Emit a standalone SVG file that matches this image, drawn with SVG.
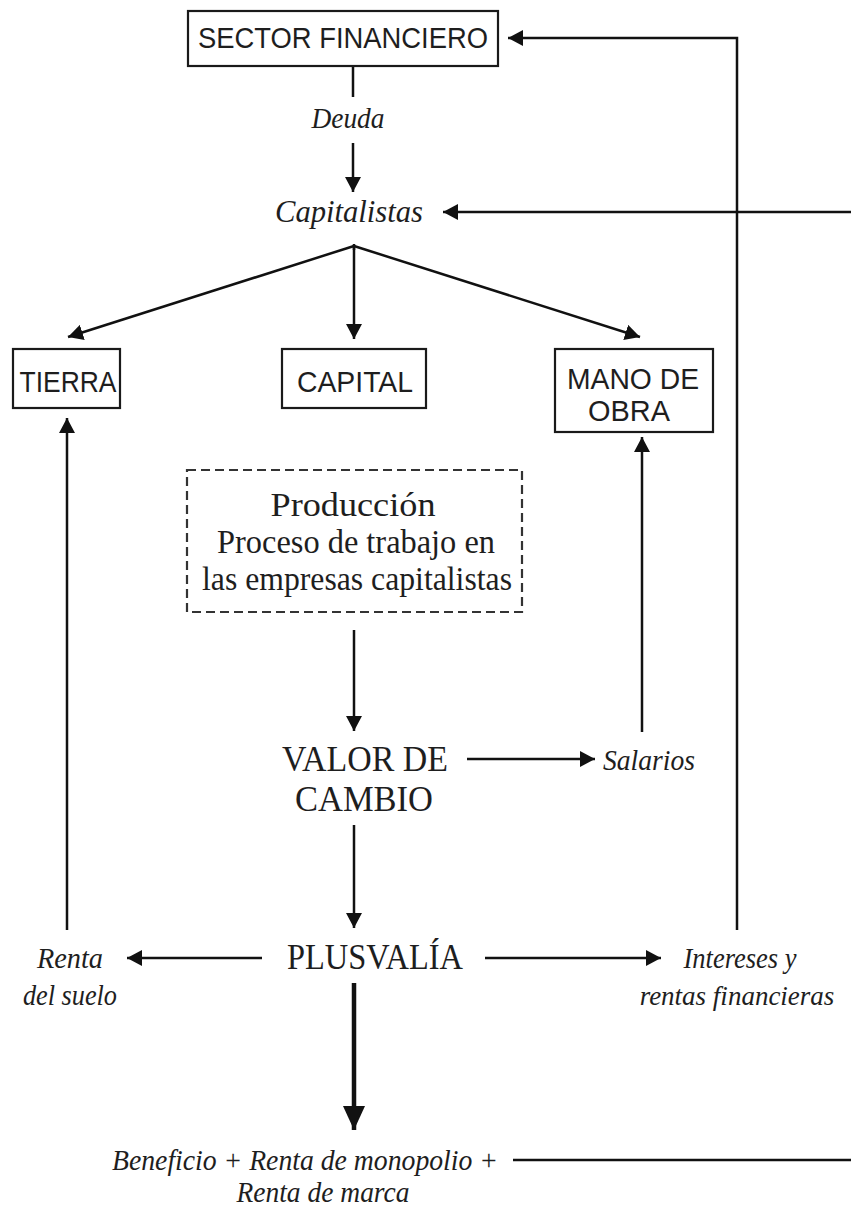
<svg xmlns="http://www.w3.org/2000/svg" width="851" height="1211" viewBox="0 0 851 1211">
<style>
.bg{fill:#ffffff}
.box{fill:none;stroke:#1a1a1a;stroke-width:2.2}
.dash{fill:none;stroke:#333;stroke-width:2.2;stroke-dasharray:9,5}
.sans{font-family:"Liberation Sans",Arial,sans-serif;font-size:29.5px;fill:#1e1e1e;text-anchor:middle}
.serif{font-family:"Liberation Serif","Times New Roman",serif;fill:#1e1e1e;text-anchor:middle}
.it{font-family:"Liberation Serif","Times New Roman",serif;font-style:italic;fill:#1e1e1e;text-anchor:middle;font-size:30px}
.ln{fill:none;stroke:#111;stroke-width:2.5}
.thick{fill:none;stroke:#111;stroke-width:4.5}
</style>
<defs>
<marker id="ah" viewBox="0 0 15 16" refX="15" refY="8" markerWidth="15" markerHeight="16" markerUnits="userSpaceOnUse" orient="auto">
<path d="M0,0 L15,8 L0,16 z" fill="#111"/>
</marker>
<marker id="ahb" viewBox="0 0 24 22" refX="24" refY="11" markerWidth="24" markerHeight="22" markerUnits="userSpaceOnUse" orient="auto">
<path d="M0,0 L24,11 L0,22 z" fill="#111"/>
</marker>
</defs>
<rect class="bg" x="0" y="0" width="851" height="1211"/>

<g id="connectors">
<line class="ln" x1="353" y1="66" x2="353" y2="97"/>
<line class="ln" x1="353" y1="143" x2="353" y2="192" marker-end="url(#ah)"/>
<line class="ln" x1="851" y1="212" x2="443" y2="212" marker-end="url(#ah)"/>
<path class="ln" d="M737,930 V38 H508" marker-end="url(#ah)"/>
<line class="ln" x1="354" y1="246" x2="68" y2="337" marker-end="url(#ah)"/>
<line class="ln" x1="354" y1="246" x2="354" y2="339" marker-end="url(#ah)"/>
<line class="ln" x1="354" y1="246" x2="640" y2="337" marker-end="url(#ah)"/>
<line class="ln" x1="354" y1="244" x2="354" y2="250"/>
<line class="ln" x1="67" y1="930" x2="67" y2="418" marker-end="url(#ah)"/>
<line class="ln" x1="642" y1="732" x2="642" y2="437" marker-end="url(#ah)"/>
<line class="ln" x1="354" y1="630" x2="354" y2="731" marker-end="url(#ah)"/>
<line class="ln" x1="467" y1="759" x2="595" y2="759" marker-end="url(#ah)"/>
<line class="ln" x1="354" y1="825" x2="354" y2="928" marker-end="url(#ah)"/>
<line class="ln" x1="262" y1="958" x2="127" y2="958" marker-end="url(#ah)"/>
<line class="ln" x1="485" y1="958" x2="661" y2="958" marker-end="url(#ah)"/>
<line class="thick" x1="354" y1="983" x2="354" y2="1130" marker-end="url(#ahb)"/>
<line class="ln" x1="513" y1="1160" x2="851" y2="1160"/>
</g>

<g id="sector-financiero">
<rect class="box" x="188" y="11" width="310" height="55"/>
<text class="sans" x="343" y="48" textLength="290" lengthAdjust="spacingAndGlyphs">SECTOR FINANCIERO</text>
</g>

<g id="deuda">
<text class="it" x="348" y="128" textLength="73" lengthAdjust="spacingAndGlyphs">Deuda</text>
</g>

<g id="capitalistas">
<text class="it" x="349" y="222" style="font-size:32px" textLength="148" lengthAdjust="spacingAndGlyphs">Capitalistas</text>
</g>

<g id="tierra">
<rect class="box" x="13" y="349" width="107" height="59"/>
<text class="sans" x="68" y="392" textLength="97" lengthAdjust="spacingAndGlyphs">TIERRA</text>
</g>

<g id="capital">
<rect class="box" x="282" y="349" width="144" height="59"/>
<text class="sans" x="355" y="392" textLength="116" lengthAdjust="spacingAndGlyphs">CAPITAL</text>
</g>

<g id="mano-de-obra">
<rect class="box" x="555" y="349" width="158" height="83"/>
<text class="sans" x="633" y="389" textLength="132" lengthAdjust="spacingAndGlyphs">MANO DE</text>
<text class="sans" x="629" y="421" textLength="82" lengthAdjust="spacingAndGlyphs">OBRA</text>
</g>

<g id="produccion">
<rect class="dash" x="187" y="470" width="335" height="142"/>
<text class="serif" x="353" y="516" style="font-size:33px" textLength="165" lengthAdjust="spacingAndGlyphs">Producción</text>
<text class="serif" x="356" y="553" style="font-size:34px" textLength="278" lengthAdjust="spacingAndGlyphs">Proceso de trabajo en</text>
<text class="serif" x="357" y="590" style="font-size:34px" textLength="310" lengthAdjust="spacingAndGlyphs">las empresas capitalistas</text>
</g>

<g id="valor-de-cambio">
<text class="serif" x="365" y="771" style="font-size:36px" textLength="166" lengthAdjust="spacingAndGlyphs">VALOR DE</text>
<text class="serif" x="364" y="811" style="font-size:36px" textLength="138" lengthAdjust="spacingAndGlyphs">CAMBIO</text>
</g>

<g id="salarios">
<text class="it" x="649" y="770" textLength="92" lengthAdjust="spacingAndGlyphs">Salarios</text>
</g>

<g id="plusvalia">
<text class="serif" x="375" y="969" style="font-size:35px" textLength="176" lengthAdjust="spacingAndGlyphs">PLUSVALÍA</text>
</g>

<g id="renta-del-suelo">
<text class="it" x="70" y="968" textLength="66" lengthAdjust="spacingAndGlyphs">Renta</text>
<text class="it" x="70" y="1005" textLength="94" lengthAdjust="spacingAndGlyphs">del suelo</text>
</g>

<g id="intereses">
<text class="it" x="740" y="968" textLength="113" lengthAdjust="spacingAndGlyphs">Intereses y</text>
<text class="it" x="737" y="1005" style="font-size:27px">rentas financieras</text>
</g>

<g id="beneficio">
<text class="it" x="305" y="1170" textLength="386" lengthAdjust="spacingAndGlyphs">Beneficio + Renta de monopolio +</text>
<text class="it" x="323" y="1202" textLength="173" lengthAdjust="spacingAndGlyphs">Renta de marca</text>
</g>
</svg>
